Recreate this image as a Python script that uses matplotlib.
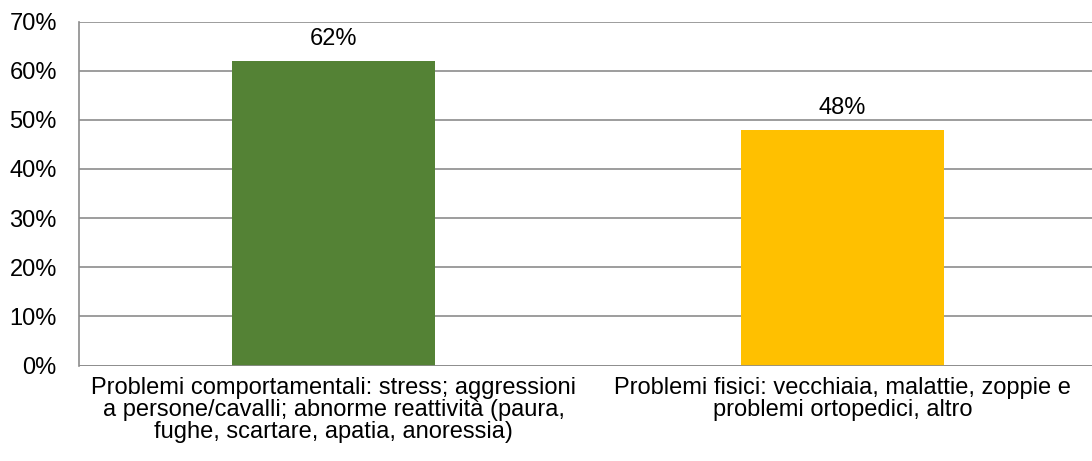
import matplotlib
matplotlib.use("Agg")
import matplotlib.pyplot as plt
from matplotlib.ticker import FuncFormatter

categories = ["Problemi comportamentali: stress; aggressioni\na persone/cavalli; abnorme reattività (paura,\nfughe, scartare, apatia, anoressia)",
              "Problemi fisici: vecchiaia, malattie, zoppie e\nproblemi ortopedici, altro"]
values = [0.62, 0.48]
labels = ["62%", "48%"]
colors = ["#548235", "#FFC000"]
yticks = [0, 0.1, 0.2, 0.3, 0.4, 0.5, 0.6, 0.7]

plt.rcParams['font.family'] = ['Liberation Sans', 'DejaVu Sans']
fig = plt.figure(figsize=(10.92, 4.61), dpi=100)
ax = fig.add_axes([79/1092, 1 - 365.5/461, 1018/1092, (365.5-21.5)/461])
x = [0, 1]
ax.bar(x, values, width=0.4, color=colors, zorder=3)
ax.set_xlim(-0.5, 1.5)
ax.set_ylim(0, 0.7)
ax.set_yticks(yticks)
ax.yaxis.set_major_formatter(FuncFormatter(lambda v, p: f"{v*100:.0f}%"))
ax.grid(axis='y', color='#8c8c8c', linewidth=1.2, zorder=0)
for s in ['top', 'right', 'bottom']:
    ax.spines[s].set_visible(False)
ax.spines['left'].set_color('#8c8c8c')
ax.spines['left'].set_linewidth(1.2)
ax.axhline(0, color='#8c8c8c', linewidth=1.2, zorder=4)
ax.tick_params(axis='y', length=0, labelsize=17, pad=16, colors='black')
ax.tick_params(axis='x', length=0, labelsize=17, pad=8)
ax.set_xticks(x)
ax.set_xticklabels(categories, linespacing=1.0)
for xi, v, lab in zip(x, values, labels):
    ax.annotate(lab, (xi, v), xytext=(0, 7.5), textcoords='offset points', ha='center', va='bottom', fontsize=17)
fig.savefig("out.png", dpi=100)
